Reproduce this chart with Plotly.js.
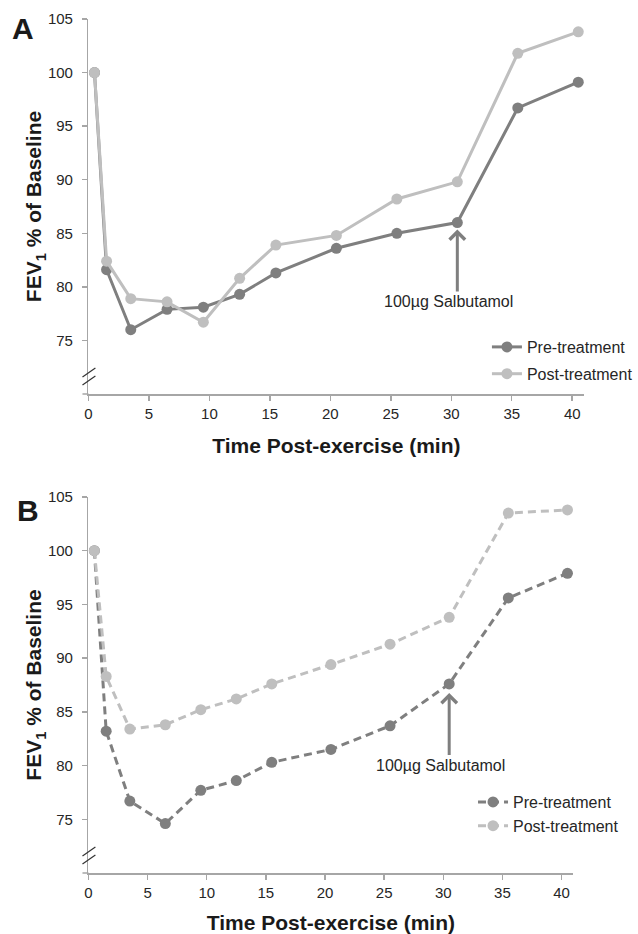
<!DOCTYPE html>
<html>
<head>
<meta charset="utf-8">
<script src="https://cdn.plot.ly/plotly-3.0.1.min.js"></script>
<style>html,body{margin:0;padding:0;background:#fff;}#chart{width:638px;height:934px;}</style>
</head>
<body>
<div id="chart"></div>
<script>
// ---- data ----
var timeMin = [0.5, 1.5, 3.5, 6.5, 9.5, 12.5, 15.5, 20.5, 25.5, 30.5, 35.5, 40.5];
var preA  = [100, 81.6, 76.0, 77.9, 78.1, 79.3, 81.3, 83.6, 85.0, 86.0, 96.7, 99.1];
var postA = [100, 82.4, 78.9, 78.6, 76.7, 80.8, 83.9, 84.8, 88.2, 89.8, 101.8, 103.8];
var preB  = [100, 83.2, 76.7, 74.6, 77.7, 78.6, 80.3, 81.5, 83.7, 87.6, 95.6, 97.9];
var postB = [100, 88.3, 83.4, 83.8, 85.2, 86.2, 87.6, 89.4, 91.3, 93.8, 103.5, 103.8];
var seriesNames = ['Pre-treatment', 'Post-treatment'];
var yTickVals = [75, 80, 85, 90, 95, 100, 105];
var xTickVals = [0, 5, 10, 15, 20, 25, 30, 35, 40];
var salbutamolTime = 30.5;
var salbutamolLabel = '100\u00b5g Salbutamol';
var xTitle = 'Time Post-exercise (min)';
var yTitle = 'FEV<sub>1</sub> % of Baseline';

// ---- styling ----
var W = 638, H = 934;
var darkC = '#7f7f7f', lightC = '#bfbfbf', axisC = '#a6a6a6', textC = '#262626';
var FONT = '"Liberation Sans", Arial, sans-serif';
function px(x){ return x / W; }
function py(y){ return 1 - y / H; }

function trace(y, name, color, dash, xa, ya, lg, grp){
  return {
    x: timeMin, y: y, name: name, type: 'scatter', mode: 'lines+markers',
    xaxis: xa, yaxis: ya, legend: lg, legendgroup: grp,
    line: {color: color, width: 3, dash: dash},
    marker: {color: color, size: 11},
    cliponaxis: false, hoverinfo: 'skip'
  };
}
var data = [
  trace(preA, seriesNames[0], darkC, 'solid', 'x', 'y', 'legend', 'a1'),
  trace(postA, seriesNames[1], lightC, 'solid', 'x', 'y', 'legend', 'a2'),
  trace(preB, seriesNames[0], darkC, '8px,5px', 'x2', 'y2', 'legend2', 'b1'),
  trace(postB, seriesNames[1], lightC, '8px,5px', 'x2', 'y2', 'legend2', 'b2')
];

var titleFont = {family: FONT, size: 21, color: '#1a1a1a'};
function xAxis(dom, anchor){
  return {domain: dom, anchor: anchor, range: [0, 41], tickvals: xTickVals,
    title: {text: '<b>' + xTitle + '</b>', font: titleFont, standoff: 18},
    showgrid: false, zeroline: false, showline: true, linecolor: axisC, linewidth: 1.5,
    ticks: 'outside', ticklen: 5, tickwidth: 1.5, tickcolor: axisC, automargin: false,
    tickfont: {family: FONT, size: 15, color: textC}, fixedrange: true};
}
function yAxis(dom, anchor){
  return {domain: dom, anchor: anchor, range: [70, 105], tickvals: yTickVals,
    title: {text: '<b>' + yTitle + '</b>', font: titleFont, standoff: 0},
    showgrid: false, zeroline: false, showline: true, linecolor: axisC, linewidth: 1.5,
    ticks: 'outside', ticklen: 5, tickwidth: 1.5, tickcolor: axisC, ticklabelstandoff: 6, automargin: false,
    tickfont: {family: FONT, size: 15, color: textC}, fixedrange: true};
}

// panel pixel boxes
var A = {l: 89, r: 588, t: 19, b: 394};
var B = {l: 89, r: 577, t: 497, b: 873};

function legendAt(x, top, gap){
  return {x: px(x), y: py(top), xanchor: 'left', yanchor: 'top', bgcolor: 'rgba(0,0,0,0)',
    font: {family: FONT, size: 16, color: textC}, tracegroupgap: gap, traceorder: 'grouped'};
}

function frameShapes(box){
  var s = [];
  // x-axis line stub continuing just left of the y axis
  s.push({type: 'line', xref: 'paper', yref: 'paper',
    x0: px(box.l - 6), y0: py(box.b), x1: px(box.l), y1: py(box.b),
    line: {color: axisC, width: 1.5}});
  // two short slashes across the y axis marking the axis break
  [0, 8].forEach(function(o){
    s.push({type: 'line', xref: 'paper', yref: 'paper',
      x0: px(box.l - 6), y0: py(box.b - 9 - o),
      x1: px(box.l + 7), y1: py(box.b - 18 - o),
      line: {color: '#333', width: 1.2}});
  });
  return s;
}

var NBSP = '\u00a0\u00a0\u00a0\u00a0';
function annotationsFor(xref, yref, letter, letterPos, headY, tailPx){
  return [
    {xref: 'paper', yref: 'paper', x: px(letterPos[0]), y: py(letterPos[1]), text: '<b>' + letter + '</b>',
     showarrow: false, xanchor: 'center', yanchor: 'middle', font: {family: FONT, size: 30, color: '#1a1a1a'}},
    {xref: xref, yref: yref, x: salbutamolTime, y: headY, text: salbutamolLabel + NBSP, showarrow: true,
     ax: 0, ay: tailPx, arrowhead: 4, arrowsize: 1, arrowwidth: 3, arrowcolor: darkC, standoff: 0,
     font: {family: FONT, size: 16, color: textC}}
  ];
}

var layout = {
  width: W, height: H, margin: {l: 0, r: 0, t: 0, b: 0},
  paper_bgcolor: '#fff', plot_bgcolor: 'rgba(0,0,0,0)', showlegend: true,
  xaxis: xAxis([px(A.l), px(A.r)], 'y'),
  yaxis: yAxis([py(A.b), py(A.t)], 'x'),
  xaxis2: xAxis([px(B.l), px(B.r)], 'y2'),
  yaxis2: yAxis([py(B.b), py(B.t)], 'x2'),
  legend: legendAt(490, 330, 3),
  legend2: legendAt(476, 785, 0),
  shapes: frameShapes(A).concat(frameShapes(B)),
  annotations: annotationsFor('x', 'y', 'A', [23, 28], 85.35, 72)
    .concat(annotationsFor('x2', 'y2', 'B', [28, 510], 86.75, 72))
};

Plotly.newPlot('chart', data, layout, {displayModeBar: false, staticPlot: true});
</script>
</body>
</html>
